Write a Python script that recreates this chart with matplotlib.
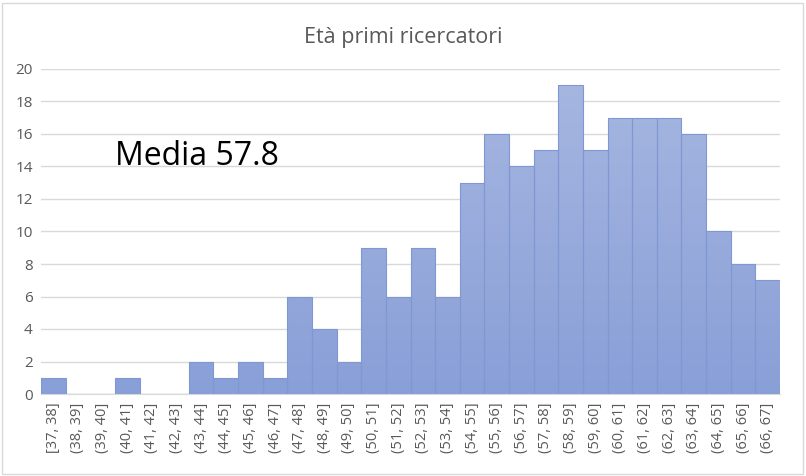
import matplotlib
matplotlib.use("Agg")
import matplotlib.pyplot as plt
import numpy as np
from matplotlib.patches import Rectangle
from matplotlib.colors import LinearSegmentedColormap

plt.rcParams['font.family'] = ['Open Sans', 'DejaVu Sans']

bins = ["[37, 38]", "(38, 39]", "(39, 40]", "(40, 41]", "(41, 42]", "(42, 43]",
        "(43, 44]", "(44, 45]", "(45, 46]", "(46, 47]", "(47, 48]", "(48, 49]",
        "(49, 50]", "(50, 51]", "(51, 52]", "(52, 53]", "(53, 54]", "(54, 55]",
        "(55, 56]", "(56, 57]", "(57, 58]", "(58, 59]", "(59, 60]", "(60, 61]",
        "(61, 62]", "(62, 63]", "(63, 64]", "(64, 65]", "(65, 66]", "(66, 67]"]
counts = [1, 0, 0, 1, 0, 0, 2, 1, 2, 1, 6, 4, 2, 9, 6, 9, 6, 13, 16, 14,
          15, 19, 15, 17, 17, 17, 16, 10, 8, 7]
yticks = list(range(0, 21, 2))
title = "Età primi ricercatori"
note = "Media 57.8"

W, H = 806, 476
fig = plt.figure(figsize=(W / 100, H / 100), dpi=100)
fig.patches.append(Rectangle((2 / W, 2 / H), 1 - 5 / W, 1 - 5 / H, transform=fig.transFigure,
                             fill=False, edgecolor="#d9d9d9", linewidth=1))

ax = fig.add_axes([41 / W, (H - 394) / H, (780 - 41) / W, (394 - 69) / H])
x = list(range(len(bins)))
bars = ax.bar(x, counts, width=1.0, color="none", edgecolor="#7f98d3", linewidth=0.8, zorder=4)
cmap = LinearSegmentedColormap.from_list("g", ["#899fd7", "#a7b7e1"])
grad = np.linspace(0, 1, 256).reshape(-1, 1)
for b in bars:
    if b.get_height() <= 0:
        continue
    im = ax.imshow(grad, cmap=cmap, origin="lower", aspect="auto",
                   extent=(b.get_x(), b.get_x() + b.get_width(), 0, 20), zorder=3)
    im.set_clip_path(b)
ax.set_xlim(-0.5, len(bins) - 0.5)
ax.set_ylim(0, 20)
ax.set_yticks(yticks)
ax.set_yticklabels([str(t) for t in yticks], fontsize=11, color="#595959")
ax.set_xticks(x)
ax.set_xticklabels(bins, rotation=90, fontsize=10.5, color="#595959")
ax.tick_params(axis="both", length=0, pad=6)
ax.grid(axis="y", color="#d9d9d9", linewidth=1, zorder=0)
for s in ["top", "right", "left"]:
    ax.spines[s].set_visible(False)
ax.spines["bottom"].set_color("#d9d9d9")

fig.text(403 / W, 1 - 38 / H, title, ha="center", va="center", fontsize=15.5, color="#595959")
ax.text(2.5, 14.6, note, ha="left", va="center", fontsize=23, color="black")

fig.savefig("out.png", dpi=100, facecolor="white")
